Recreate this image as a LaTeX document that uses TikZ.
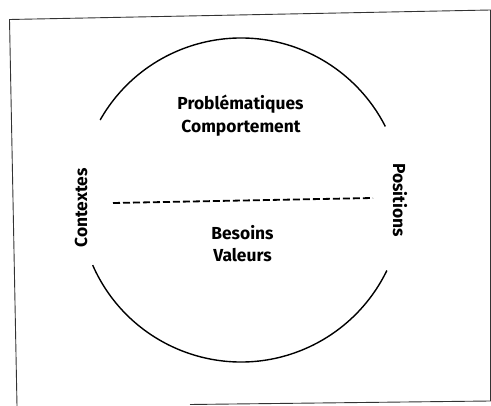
\documentclass[tikz,border=0pt]{standalone}
\usepackage{fontspec}
\setmainfont{Fira Sans}
\begin{document}
\begin{tikzpicture}[x=1pt,y=-1pt,
  label/.style={font=\bfseries\fontsize{17.4}{20}\selectfont, inner sep=0pt},
  ring/.style={line width=1.4pt},
  frame/.style={line width=0.9pt, black!80},
  divider/.style={line width=1.8pt, dash pattern=on 7pt off 3pt}]
  \useasboundingbox (0,0) rectangle (491,406);
  % outer frame
  \draw[frame] (17,406) -- (9.5,19.5) -- (490.5,10) -- (490.5,401) -- (190,404.5);
  % circle, open at left and right for the side labels
  \coordinate (c) at (241,200);
  \draw[ring] ([shift={(156.3:162)}]c) arc[start angle=156.3, end angle=25.8, radius=162];
  \draw[ring] ([shift={(209.6:162)}]c) arc[start angle=209.6, end angle=333, radius=162];
  % dividing line
  \coordinate (dl) at (113,203);
  \coordinate (dr) at (373,198);
  \draw[divider] (dl) -- (dr);
  % labels
  \node[label, anchor=base] (p1) at (240.5,110) {Problématiques};
  \node[label, anchor=base] (p2) at (241,133) {Comportement};
  \node[label, anchor=base] (b1) at (242.5,240) {Besoins};
  \node[label, anchor=base] (b2) at (242.5,262) {Valeurs};
  \node[label, rotate=90] (ctx) at (81,208) {Contextes};
  \node[label, rotate=-90] (pos) at (400,200) {Positions};
\end{tikzpicture}
\end{document}
